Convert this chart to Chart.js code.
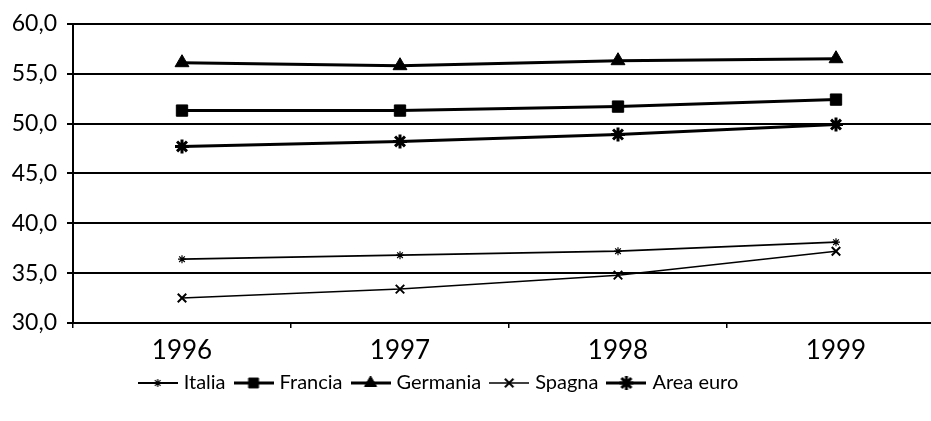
<!DOCTYPE html>
<html>
<head>
<meta charset="utf-8">
<script src="https://cdn.jsdelivr.net/npm/chart.js@4"></script>
<style>
  html, body { margin: 0; padding: 0; background: #fff; overflow: hidden; }
  #wrap { position: absolute; left: 0; top: 0; width: 960px; height: 421px; }
</style>
</head>
<body>
<div id="wrap"><canvas id="myChart" width="960" height="421"></canvas></div>
<script>
const years = ['1996', '1997', '1998', '1999'];
const italia = [36.4, 36.8, 37.2, 38.1];
const francia = [51.3, 51.3, 51.7, 52.4];
const germania = [56.1, 55.8, 56.3, 56.5];
const spagna = [32.5, 33.4, 34.8, 37.2];
const areaEuro = [47.7, 48.2, 48.9, 49.9];
const yTicks = [30, 35, 40, 45, 50, 55, 60];

const FONT = "Lato, 'DejaVu Sans', sans-serif";

// little line+marker image for the legend
function swatch(style, radius, lineWidth, markWidth) {
    const c = document.createElement('canvas');
    c.width = 40;
    c.height = 20;
    const g = c.getContext('2d');
    g.strokeStyle = '#000';
    g.fillStyle = '#000';
    g.lineWidth = lineWidth;
    g.beginPath();
    g.moveTo(0, 10);
    g.lineTo(40, 10);
    g.stroke();
    g.lineWidth = markWidth;
    Chart.helpers.drawPoint(g, { pointStyle: style, radius: radius, borderWidth: markWidth, rotation: 0 }, 20, 10);
    return c;
}

const datasets = [
    { label: 'Italia', data: italia, borderWidth: 1.8, pointStyle: 'star', pointRadius: 4, pointBorderWidth: 1.2 },
    { label: 'Francia', data: francia, borderWidth: 3, pointStyle: 'rect', pointRadius: 8, pointBorderWidth: 1 },
    { label: 'Germania', data: germania, borderWidth: 3, pointStyle: 'triangle', pointRadius: 8, pointBorderWidth: 1 },
    { label: 'Spagna', data: spagna, borderWidth: 1.5, pointStyle: 'crossRot', pointRadius: 6, pointBorderWidth: 2 },
    { label: 'Area euro', data: areaEuro, borderWidth: 3, pointStyle: 'star', pointRadius: 7, pointBorderWidth: 3 }
].map(d => Object.assign({
    borderColor: '#000',
    backgroundColor: '#000',
    pointBackgroundColor: '#000',
    pointBorderColor: '#000',
    tension: 0,
    fill: false
}, d));

const legendIcons = datasets.map(d => swatch(d.pointStyle, Math.min(d.pointRadius, 7), d.borderWidth, d.pointBorderWidth));

const shiftLegend = {
    id: 'shiftLegend',
    afterLayout(chart) {
        chart.legend.right -= 65;
    }
};

const ctx = document.getElementById('myChart').getContext('2d');
new Chart(ctx, {
    type: 'line',
    data: { labels: years, datasets: datasets },
    plugins: [shiftLegend],
    options: {
        responsive: false,
        animation: false,
        events: [],
        layout: { padding: { top: 20, right: 15, bottom: 18, left: 0 } },
        plugins: {
            tooltip: { enabled: false },
            legend: {
                position: 'bottom',
                labels: {
                    color: '#000',
                    font: { family: FONT, size: 20 },
                    usePointStyle: true,
                    pointStyleWidth: 32,
                    padding: 12,
                    generateLabels(chart) {
                        return chart.data.datasets.map((d, i) => ({
                            text: d.label,
                            pointStyle: legendIcons[i],
                            fontColor: '#000',
                            lineWidth: 0,
                            strokeStyle: '#000',
                            fillStyle: '#000',
                            datasetIndex: i
                        }));
                    }
                }
            }
        },
        scales: {
            x: {
                offset: true,
                afterFit(scale) { scale.height = 38; },
                grid: {
                    display: true,
                    drawOnChartArea: false,
                    offset: true,
                    tickLength: 5,
                    color: '#000',
                    lineWidth: 1.5
                },
                border: { display: true, color: '#000', width: 2 },
                ticks: {
                    color: '#000',
                    font: { family: FONT, size: 26 },
                    padding: 7,
                    maxRotation: 0
                }
            },
            y: {
                min: 30,
                max: 60,
                afterFit(scale) { scale.width = 73; },
                afterBuildTicks(scale) { scale.ticks = yTicks.map(v => ({ value: v })); },
                grid: {
                    color: '#000',
                    lineWidth: 2,
                    tickLength: 6
                },
                border: { display: true, color: '#000', width: 2 },
                ticks: {
                    color: '#000',
                    font: { family: FONT, size: 23 },
                    padding: 10,
                    callback: v => v.toFixed(1).replace('.', ',')
                }
            }
        }
    }
});
</script>
</body>
</html>
